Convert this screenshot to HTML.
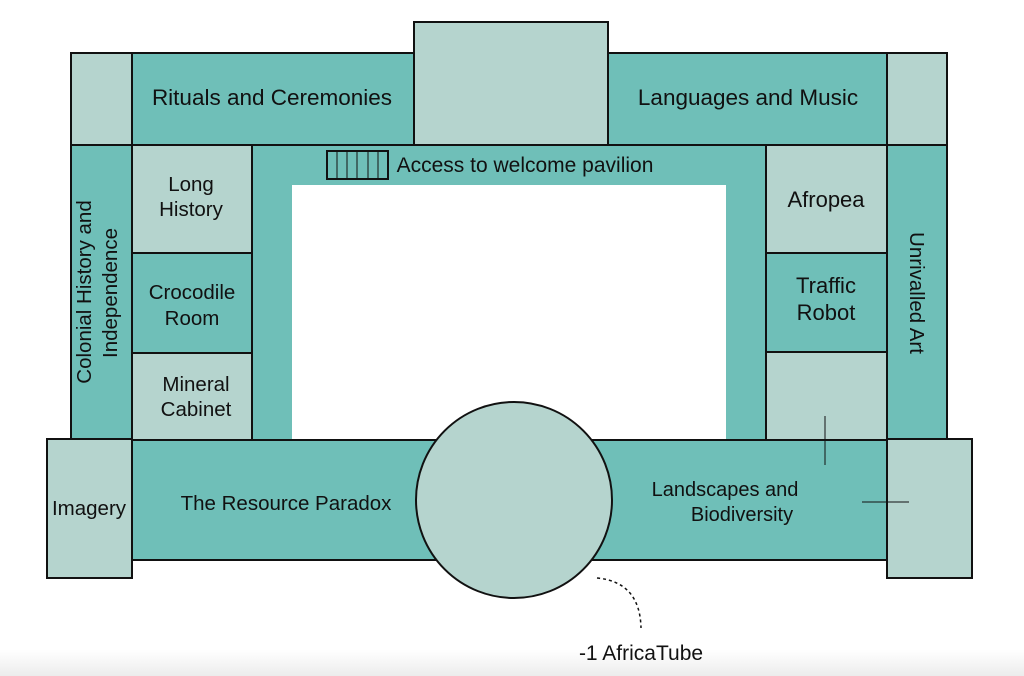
<!DOCTYPE html>
<html><head><meta charset="utf-8"><style>
html,body{margin:0;padding:0;background:#fff;}
svg{display:block;font-family:"Liberation Sans",Arial,sans-serif;}
</style></head><body>
<svg width="1024" height="676" viewBox="0 0 1024 676" xmlns="http://www.w3.org/2000/svg">
<defs><linearGradient id="g" x1="0" y1="0" x2="0" y2="1"><stop offset="0" stop-color="#fff"/><stop offset="1" stop-color="#ececec"/></linearGradient></defs>
<rect x="0" y="650" width="1024" height="26" fill="url(#g)"/>
<g stroke="#111" stroke-width="2">
<rect x="252" y="145" width="514" height="296" fill="#6fbfb8" stroke="none"/>
<rect x="292" y="185" width="434" height="256" fill="#fff" stroke="none"/>
<line x1="252" y1="145" x2="766" y2="145"/>
<rect x="71" y="53" width="61" height="92" fill="#b5d4ce"/>
<rect x="132" y="53" width="282" height="92" fill="#6fbfb8"/>
<rect x="414" y="22" width="194" height="123" fill="#b5d4ce"/>
<rect x="608" y="53" width="279" height="92" fill="#6fbfb8"/>
<rect x="887" y="53" width="60" height="92" fill="#b5d4ce"/>
<rect x="71" y="145" width="61" height="295" fill="#6fbfb8"/>
<rect x="132" y="145" width="120" height="108" fill="#b5d4ce"/>
<rect x="132" y="253" width="120" height="100" fill="#6fbfb8"/>
<rect x="132" y="353" width="120" height="87" fill="#b5d4ce"/>
<rect x="766" y="145" width="121" height="108" fill="#b5d4ce"/>
<rect x="766" y="253" width="121" height="99" fill="#6fbfb8"/>
<rect x="766" y="352" width="121" height="88" fill="#b5d4ce"/>
<rect x="887" y="145" width="60" height="295" fill="#6fbfb8"/>
<rect x="132" y="440" width="755" height="120" fill="#6fbfb8"/>
<rect x="47" y="439" width="85" height="139" fill="#b5d4ce"/>
<rect x="887" y="439" width="85" height="139" fill="#b5d4ce"/>
<circle cx="514" cy="500" r="98" fill="#b5d4ce"/>
<rect x="327" y="151" width="61" height="28" fill="none"/>
</g>
<g stroke="#111" stroke-width="1">
<line x1="337" y1="151" x2="337" y2="179"/><line x1="347" y1="151" x2="347" y2="179"/>
<line x1="357" y1="151" x2="357" y2="179"/><line x1="368" y1="151" x2="368" y2="179"/>
<line x1="378" y1="151" x2="378" y2="179"/>
<line x1="825" y1="416" x2="825" y2="465"/>
<line x1="862" y1="502" x2="909" y2="502"/>
<path d="M597 578 Q640 582 641 628" fill="none" stroke-dasharray="3,3" stroke-width="1.5"/>
</g>
<g fill="#111" font-size="22" text-anchor="middle">
<text x="272" y="105" font-size="22.5">Rituals and Ceremonies</text>
<text x="748" y="105" font-size="22.5">Languages and Music</text>
<text x="525" y="172" font-size="21">Access to welcome pavilion</text>
<text x="191" y="191" font-size="20.5">Long</text>
<text x="191" y="216" font-size="20.5">History</text>
<text x="192" y="299" font-size="20.5">Crocodile</text>
<text x="192" y="325" font-size="20.5">Room</text>
<text x="196" y="391" font-size="20.5">Mineral</text>
<text x="196" y="416" font-size="20.5">Cabinet</text>
<text x="826" y="207">Afropea</text>
<text x="826" y="293">Traffic</text>
<text x="826" y="320">Robot</text>
<text x="89" y="515" font-size="20.5">Imagery</text>
<text x="286" y="510" font-size="20.5">The Resource Paradox</text>
<text x="725" y="496" font-size="20">Landscapes and</text>
<text x="742" y="521" font-size="20">Biodiversity</text>
<text x="641" y="660" font-size="21">-1 AfricaTube</text>
<text transform="translate(91,292) rotate(-90)" font-size="20.5">Colonial History and</text>
<text transform="translate(117,293) rotate(-90)" font-size="20.5">Independence</text>
<text transform="translate(910,293) rotate(90)" font-size="20.5">Unrivalled Art</text>
</g>
</svg>
</body></html>
